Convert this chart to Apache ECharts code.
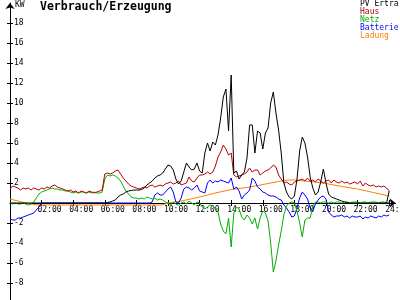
<!DOCTYPE html>
<html><head><meta charset="utf-8">
<script src="https://cdn.jsdelivr.net/npm/echarts@6/dist/echarts.min.js"></script>
<style>html,body{margin:0;padding:0;background:#fff}#c{width:400px;height:300px}</style>
</head><body><div id="c"></div>
<script>
// ---- data (values in kW, 10-minute samples from 00:00 to 24:00) ----
const titleText = 'Verbrauch/Erzeugung';
const unitLabel = 'KW';
const seriesNames = ['PV Ertra', 'Haus', 'Netz', 'Batterie', 'Ladung'];
const seriesColors = ['#000000', '#b40000', '#00b000', '#0000ff', '#ff8000'];
const xTickHours = [2, 4, 6, 8, 10, 12, 14, 16, 18, 20, 22, 24];
const yTickValues = [-8, -6, -4, -2, 2, 4, 6, 8, 10, 12, 14, 16, 18];

const sampleCount = 145; // 00:00 .. 24:00 every 10 minutes
const times = Array.from({length: sampleCount}, (_, i) => i / 6);

const pvErtrag = [
  0,0,0,0,0,0,
  0,0,0,0,0,0,
  0,0,0,0,0,0,
  0,0,0,0,0,0,
  0,0,0,0,0,0,
  0,0,0,0,0,0,
  0,0.05,0.1,0.2,0.3,0.6,
  0.8,0.9,1.1,1.2,1.25,1.3,
  1.3,1.3,1.35,1.5,1.8,2.0,
  2.2,2.5,2.7,2.8,3.0,3.4,
  3.8,3.7,3.3,2.4,1.9,2.2,
  3.1,4.0,3.6,3.3,3.4,4.0,
  3.2,3.0,5.0,6.0,5.2,6.1,
  5.8,6.8,8.5,10.6,11.4,7.2,
  12.8,3.0,3.2,2.4,2.8,3.1,
  4.5,7.8,7.8,5.0,7.2,7.0,
  5.4,7.0,7.5,10.0,11.1,9.0,
  7.3,5.0,2.0,1.1,0.6,0.4,
  0.7,2.4,5.2,6.6,6.0,4.6,
  2.6,1.5,0.8,1.1,2.1,3.4,
  2.0,0.9,0.6,0.5,0.4,0.3,
  0.2,0.1,0.05,0,0,0,
  0,0,0,0,0,0,
  0,0,0,0,0,0,
  1.2
];
const haus = [
  1.4,1.7,1.6,1.5,1.3,1.5,
  1.4,1.5,1.3,1.5,1.4,1.3,
  1.5,1.4,1.6,1.5,1.7,1.8,
  1.6,1.5,1.4,1.3,1.2,1.3,
  1.1,1.2,1.0,1.2,1.1,1.0,
  1.2,1.1,1.0,1.1,1.2,1.3,
  2.9,3.0,2.9,3.0,3.2,3.3,
  2.9,2.5,2.2,1.9,1.7,1.6,
  1.5,1.4,1.5,1.6,1.5,1.7,
  1.8,1.6,1.7,1.8,1.7,1.9,
  2.0,2.1,1.9,2.0,2.2,1.8,
  1.9,2.0,2.6,2.2,2.1,2.5,
  2.8,2.8,2.9,3.1,2.9,3.1,
  3.7,4.6,5.1,5.8,5.4,4.8,
  5.0,2.8,2.6,2.7,2.8,2.9,
  3.1,3.5,3.1,3.3,3.3,2.8,
  3.0,3.2,3.3,3.5,3.8,3.6,
  2.8,2.4,2.0,2.1,1.9,1.8,
  2.1,2.2,2.3,2.4,2.2,2.5,
  2.2,2.3,2.1,2.4,2.2,2.0,
  2.2,2.3,2.0,2.3,2.1,2.0,
  2.2,2.0,2.1,1.9,2.0,2.1,
  1.9,2.2,1.7,2.0,1.8,1.7,
  1.8,1.6,1.7,1.6,1.7,1.5,
  1.2
];
const netz = [
  0.0,-0.1,0.0,-0.1,-0.1,0.0,
  -0.1,-0.2,-0.1,0.1,0.5,0.9,
  1.1,1.2,1.3,1.4,1.5,1.4,
  1.4,1.3,1.3,1.2,1.2,1.1,
  1.0,1.1,1.0,1.1,1.1,1.0,
  1.1,1.0,1.1,1.0,1.0,1.1,
  2.4,2.8,2.7,2.8,2.7,2.5,
  2.2,1.7,1.2,0.9,0.6,0.5,
  0.5,0.4,0.5,0.4,0.6,0.5,
  0.4,0.5,0.3,0.4,0.3,0.1,
  0.0,-0.2,0.1,-0.1,-0.2,0.0,
  0.1,-0.1,0.2,0.0,-0.2,0.1,
  0.0,-0.4,-0.6,-0.4,-0.2,-0.3,
  -0.5,-0.9,-2.1,-2.8,-3.1,-1.5,
  -4.4,-1.0,-0.4,-0.6,-1.4,-1.7,
  -1.2,-1.5,-2.1,-1.5,-2.6,-1.5,
  -0.8,-1.0,-1.8,-4.0,-6.9,-5.8,
  -4.2,-2.8,-1.2,-0.3,0.0,0.1,
  0.0,-0.8,-2.0,-3.4,-1.7,-1.5,
  -1.5,-0.3,0.1,0.1,0.0,0.1,
  0.1,0.0,0.1,0.0,0.1,0.1,
  0.0,0.1,0.1,0.0,0.1,0.1,
  0.1,0.0,0.1,0.1,0.0,0.1,
  0.1,0.1,0.0,0.1,0.1,0.0,
  0.1
];
const batterie = [
  -1.6,-1.7,-1.7,-1.5,-1.5,-1.4,
  -1.3,-1.2,-1.1,-1.0,-0.7,-0.4,
  0,0,0,0,0,0,
  0,0,0,0,0,0,
  0,0,0,0,0,0,
  0,0,0,0,0,0,
  0,0,0,0,0,0,
  0,0,0,0,0,0,
  0,0,0,0,0,0,
  0.1,0.8,1.0,0.8,0.8,1.1,
  1.4,1.6,1.1,0.1,0.0,0.5,
  1.4,1.6,1.5,1.3,1.5,1.8,
  1.2,1.1,1.0,2.0,2.3,2.0,
  2.2,2.1,2.3,2.2,2.1,2.0,
  2.5,1.4,1.6,1.2,0.4,0.8,
  1.0,1.3,2.5,2.2,1.6,1.4,
  1.1,1.0,0.8,0.7,0.7,0.6,
  0.4,0.3,-0.2,-0.5,-0.9,-1.4,
  -1.3,-0.5,0.5,1.1,0.8,0.4,
  -0.5,-0.8,-0.1,0.3,0.6,0.7,
  0.4,-0.9,-1.2,-1.4,-1.3,-1.3,
  -1.2,-1.4,-1.3,-1.5,-1.3,-1.4,
  -1.4,-1.3,-1.6,-1.4,-1.5,-1.3,
  -1.4,-1.5,-1.3,-1.4,-1.2,-1.3,
  -1.2
];
const ladungHours = [0, 0.5, 1, 1.5, 2, 4, 6, 8, 9.6, 10, 10.5, 11, 12, 13, 14, 15, 16, 17, 17.5, 18, 19, 20, 21, 22, 23, 24];
const ladung =      [0.4, 0.2, 0.0, -0.15, -0.2, -0.2, -0.2, -0.2, -0.2, 0.0, 0.1, 0.25, 0.6, 1.0, 1.35, 1.55, 1.85, 2.15, 2.3, 2.3, 2.15, 1.95, 1.65, 1.4, 1.05, 0.7];

// ---- chart ----
const FONT = 'DejaVu Sans Mono';
const yMin = -9.7, yMax = 20, xMin = 0, xMax = 24.4;
const gridTop = 3, gridBottomPx = 300;
const zeroOffset = -Math.round((gridBottomPx - gridTop) * (0 - yMin) / (yMax - yMin));
const pairs = (xs, ys) => xs.map((x, i) => [x, ys[i]]);
const valuesByName = {
  'PV Ertra': pairs(times, pvErtrag),
  'Haus': pairs(times, haus),
  'Netz': pairs(times, netz),
  'Batterie': pairs(times, batterie),
  'Ladung': pairs(ladungHours, ladung)
};
const drawOrder = ['Ladung', 'Batterie', 'Netz', 'Haus', 'PV Ertra'];

const chart = echarts.init(document.getElementById('c'), null, {renderer: 'canvas'});
chart.setOption({
  animation: false,
  backgroundColor: '#ffffff',
  title: {
    text: titleText, left: 40, top: 1, padding: 0,
    textStyle: {fontFamily: FONT, fontWeight: 'bold', fontSize: 11.5, color: '#000'}
  },
  legend: {
    orient: 'vertical', left: 355, top: 0, padding: 0,
    itemGap: 0, itemWidth: 0, itemHeight: 8, icon: 'none',
    selectedMode: false,
    textStyle: {fontFamily: FONT, fontSize: 8, lineHeight: 8},
    data: seriesNames.map((n, i) => ({name: n, textStyle: {color: seriesColors[i]}}))
  },
  graphic: [{
    type: 'text', left: 15, top: 1,
    style: {text: unitLabel, font: '8px "DejaVu Sans Mono"', fill: '#000'}
  }],
  grid: {left: 10, right: 4.5, top: gridTop, bottom: 0, containLabel: false, outerBoundsMode: 'none'},
  xAxis: [{
    type: 'value', min: xMin, max: xMax, position: 'bottom', offset: zeroOffset,
    axisLine: {show: true, onZero: false, symbol: ['none', 'arrow'], symbolSize: [7, 6],
               lineStyle: {color: '#000', width: 1}},
    axisTick: {show: true, inside: false, length: 3, customValues: xTickHours, lineStyle: {color: '#000'}},
    axisLabel: {show: true, customValues: xTickHours, margin: 3, align: 'center', padding: [0, 0, 0, 16],
                color: '#000', fontFamily: FONT, fontSize: 8,
                formatter: v => String(v).padStart(2, '0') + ':00'},
    splitLine: {show: false}
  }, {
    type: 'value', min: xMin, max: xMax, position: 'bottom', offset: zeroOffset,
    axisLine: {show: false, onZero: false},
    axisTick: {show: true, inside: true, length: 3, customValues: xTickHours, lineStyle: {color: '#000'}},
    axisLabel: {show: false}, splitLine: {show: false}
  }],
  yAxis: [{
    type: 'value', min: yMin, max: yMax,
    axisLine: {show: true, onZero: false, symbol: ['none', 'arrow'], symbolSize: [7, 6],
               lineStyle: {color: '#000', width: 1}},
    axisTick: {show: true, inside: false, length: 3, customValues: yTickValues, lineStyle: {color: '#000'}},
    axisLabel: {show: true, inside: true, margin: 4, customValues: yTickValues,
                color: '#000', fontFamily: FONT, fontSize: 8},
    splitLine: {show: false}
  }, {
    type: 'value', min: yMin, max: yMax, position: 'left', offset: 0,
    axisLine: {show: false, onZero: false},
    axisTick: {show: true, inside: true, length: 3, customValues: yTickValues, lineStyle: {color: '#000'}},
    axisLabel: {show: false}, splitLine: {show: false}
  }],
  series: drawOrder.map(name => ({
    name: name, type: 'line',
    xAxisIndex: 0, yAxisIndex: 0,
    data: valuesByName[name],
    showSymbol: false, symbol: 'none',
    lineStyle: {width: 1, color: seriesColors[seriesNames.indexOf(name)]},
    itemStyle: {color: seriesColors[seriesNames.indexOf(name)]},
    emphasis: {disabled: true}
  }))
});
</script></body></html>
